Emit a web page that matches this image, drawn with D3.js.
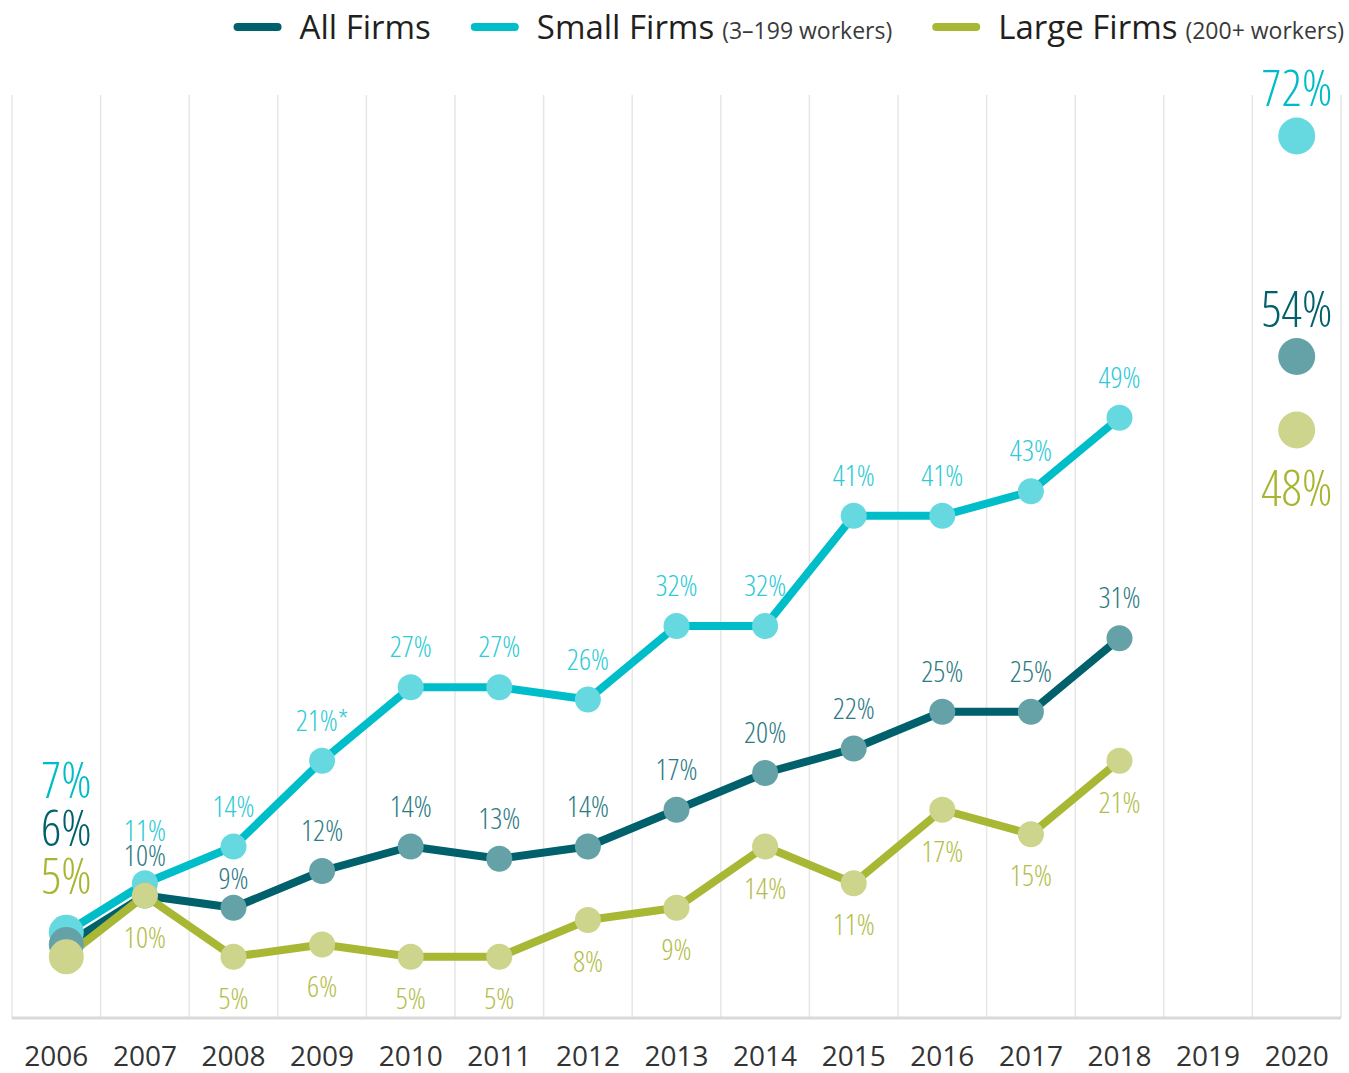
<!DOCTYPE html>
<html lang="en">
<head>
    <meta charset="UTF-8">
    <title>Firms share by year</title>
    <script src="https://d3js.org/d3.v7.min.js"></script>
    <style>
        html, body {
            margin: 0;
            padding: 0;
            background: white;
        }
        .lbl {
            font-family: 'Open Sans', sans-serif;
            font-stretch: 75%;
            font-weight: 300;
        }
        .txt {
            font-family: 'Open Sans', sans-serif;
        }
    </style>
</head>
<body>
    <div class="content"></div>
    <script>
        // data (2019 has no survey)
        const years = [2006, 2007, 2008, 2009, 2010, 2011, 2012, 2013, 2014, 2015, 2016, 2017, 2018, 2019, 2020];
        const allFirms = [6, 10, 9, 12, 14, 13, 14, 17, 20, 22, 25, 25, 31, null, 54];
        const smallFirms = [7, 11, 14, 21, 27, 27, 26, 32, 32, 41, 41, 43, 49, null, 72];
        const largeFirms = [5, 10, 5, 6, 5, 5, 8, 9, 14, 11, 17, 15, 21, null, 48];
        const smallNotes = ["", "", "", "*", "", "", "", "", "", "", "", "", "", "", ""];

        const seriesNames = ["All Firms", "Small Firms", "Large Firms"];
        const seriesSub = ["", "(3\u2013199 workers)", "(200+ workers)"];

        const w = 1349;
        const h = 1073;

        const series = [
            { name: seriesNames[0], sub: seriesSub[0], values: allFirms, notes: null,
              line: "#00606b", dot: "#65a2a8", label: "#2d7b84", big: "#00606b", below: false },
            { name: seriesNames[1], sub: seriesSub[1], values: smallFirms, notes: smallNotes,
              line: "#00bec9", dot: "#66d9e0", label: "#2ecad5", big: "#00bcc8", below: false },
            { name: seriesNames[2], sub: seriesSub[2], values: largeFirms, notes: null,
              line: "#a8b834", dot: "#cdd48b", label: "#b3be4a", big: "#a8b532", below: true }
        ];

        const svg = d3.select(".content")
            .append("svg")
            .attr("width", w)
            .attr("height", h);

        const x = d3.scaleBand()
            .domain(years)
            .range([12, 1341]);

        const y = d3.scaleLinear()
            .domain([0, 75])
            .range([1018, 99.25]);

        // first year's dots sit a little right of the column centre
        const cx = d => x(d.year) + x.bandwidth() / 2 + (d.year === years[0] ? 10 : 0);

        // set the condensed labels to the width they have in the original
        const probe = svg.append("text").attr("class", "lbl").attr("font-size", "100px").text("14%");
        const squeeze = 145 / probe.node().getComputedTextLength();
        probe.remove();
        function condense(sel) {
            sel.each(function () {
                const len = this.getComputedTextLength();
                d3.select(this)
                    .attr("textLength", len * squeeze)
                    .attr("lengthAdjust", "spacingAndGlyphs");
            });
        }

        // vertical grid lines on band edges
        const edges = years.map(v => x(v)).concat([x.range()[1]]);
        svg.selectAll("line.grid")
            .data(edges)
            .enter()
            .append("line")
            .attr("class", "grid")
            .attr("x1", d => d)
            .attr("x2", d => d)
            .attr("y1", 95)
            .attr("y2", 1018)
            .attr("stroke", "#e6e6e6")
            .attr("stroke-width", 1.5);

        // x axis
        const xAxis = svg.append("g")
            .attr("transform", "translate(0,1018)")
            .call(d3.axisBottom(x).tickSize(0).tickPadding(48));
        xAxis.select(".domain")
            .attr("d", "M12,0H1341")
            .attr("stroke", "#d9d9d9")
            .attr("stroke-width", 3);
        xAxis.selectAll("text")
            .attr("class", "txt")
            .attr("font-size", "28px")
            .attr("fill", "#333")
            .attr("dy", "0");

        // points per series
        series.forEach(s => {
            s.points = years.map((yr, i) => ({
                year: yr, v: s.values[i], note: s.notes ? s.notes[i] : "", i: i
            }));
        });

        const line = d3.line()
            .defined(d => d.v != null && d.year !== 2020)
            .x(cx)
            .y(d => y(d.v));

        series.forEach(s => {
            svg.append("path")
                .datum(s.points)
                .attr("d", line)
                .attr("fill", "none")
                .attr("stroke", s.line)
                .attr("stroke-width", 8)
                .attr("stroke-linejoin", "round");
        });

        // dots: small first, then all, then large on top
        [series[1], series[0], series[2]].forEach(s => {
            svg.selectAll(null)
                .data(s.points.filter(d => d.v != null))
                .enter()
                .append("circle")
                .attr("cx", cx)
                .attr("cy", d => y(d.v))
                .attr("r", d => d.year === 2006 ? 17.5 : (d.year === 2020 ? 18.5 : 13))
                .attr("fill", s.dot);
        });

        // label baselines, with a couple of simple collision rules
        const allS = series[0], smallS = series[1], largeS = series[2];
        series.forEach(s => {
            s.points.forEach(d => {
                if (d.v == null) return;
                d.ly = s.below ? y(d.v) + 52 : y(d.v) - 30;
            });
        });
        allS.points.forEach((d, i) => {
            const sm = smallS.points[i];
            if (d.v == null || sm.v == null) return;
            // all-firms label squeezed between its dot and a small-firms dot above it
            const centre = d.ly - 10;
            const gap = centre - y(sm.v);
            if (gap > -13 && gap < 25) d.ly = y(d.v) - 29 + 10;
            // small-firms label sitting on top of the all-firms label
            if (sm.ly > d.ly - 25) sm.ly = d.ly - 25;
        });

        // regular value labels
        series.forEach(s => {
            svg.selectAll(null)
                .data(s.points.filter(d => d.v != null && d.year !== 2006 && d.year !== 2020))
                .enter()
                .append("text")
                .attr("class", "lbl")
                .text(d => d.v + "%" + d.note)
                .attr("x", cx)
                .attr("y", d => d.ly)
                .attr("text-anchor", "middle")
                .attr("font-size", "29px")
                .attr("fill", s.label)
                .call(condense);
        });

        // first-year labels stacked above the first points
        const first = smallS.points[0];
        [smallS, allS, largeS].forEach((s, k) => {
            svg.append("text")
                .attr("class", "lbl")
                .text(s.values[0] + "%")
                .attr("x", cx(first))
                .attr("y", y(first.v) - 134 + k * 48)
                .attr("text-anchor", "middle")
                .attr("font-size", "49px")
                .attr("fill", s.big)
                .call(condense);
        });

        // last-year labels
        series.forEach(s => {
            const d = s.points[s.points.length - 1];
            svg.append("text")
                .attr("class", "lbl")
                .text(d.v + "%")
                .attr("x", cx(d))
                .attr("y", s.below ? y(d.v) + 76 : y(d.v) - 30)
                .attr("text-anchor", "middle")
                .attr("font-size", "49px")
                .attr("fill", s.big)
                .call(condense);
        });

        // legend, right aligned
        const legend = svg.append("g");
        let lx = 0;
        series.forEach((s, i) => {
            const g = legend.append("g").attr("transform", "translate(" + lx + ",0)");
            g.append("line")
                .attr("x1", 4).attr("x2", 44)
                .attr("y1", 27).attr("y2", 27)
                .attr("stroke", s.line)
                .attr("stroke-width", 8)
                .attr("stroke-linecap", "round");
            const t = g.append("text")
                .attr("class", "txt")
                .attr("x", 66)
                .attr("y", 39)
                .attr("fill", "#231f20");
            t.append("tspan")
                .attr("font-size", "33px")
                .text(s.name);
            if (s.sub) {
                t.append("tspan")
                    .attr("font-size", "23px")
                    .attr("fill", "#3a3a3a")
                    .attr("dx", 8)
                    .text(s.sub);
            }
            lx += 66 + t.node().getComputedTextLength() + (s.sub ? 8 : 0) + 40;
        });
        const total = lx - 40;
        legend.attr("transform", "translate(" + (1344 - total) + ",0)");
    </script>
</body>
</html>
